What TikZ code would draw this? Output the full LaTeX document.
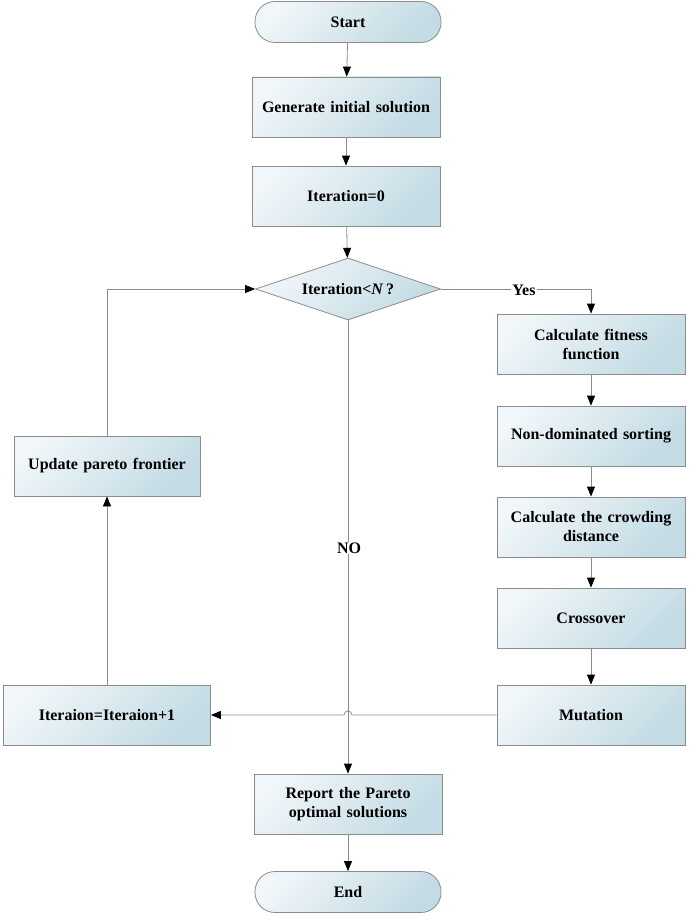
\documentclass[tikz,border=0pt]{standalone}
\usepackage{fontspec}
\setmainfont{Liberation Serif}
\usepackage{xcolor}
\usetikzlibrary{shapes.geometric,arrows.meta}

\definecolor{boxlight}{HTML}{F0F6F9}
\definecolor{boxdark}{HTML}{C3DBE4}
\definecolor{edgegray}{HTML}{8C8C8C}

\tikzset{
  base/.style={draw=edgegray, line width=0.8pt, top color=boxlight, bottom color=boxdark,
    shading angle=45, font=\fontsize{16}{19}\selectfont\bfseries, align=center},
  procbox/.style={base, rectangle, minimum width=188pt, minimum height=60pt, text width=176pt},
  termbox/.style={base, rectangle, rounded corners=20pt, minimum width=186pt, minimum height=41pt},
  decbox/.style={base, diamond, minimum width=185pt, minimum height=62pt, inner sep=0pt, aspect=3},
  flow/.style={draw=edgegray, line width=0.8pt, ->, >={Triangle[length=10pt,width=8pt,black]}},
  lbl/.style={fill=white, inner sep=1pt, font=\fontsize{16}{19}\selectfont\bfseries}
}

\begin{document}
\begin{tikzpicture}[x=1pt, y=-1pt]
  \useasboundingbox (0,0) rectangle (688,915);
  % main column
  \node[termbox] (start) at (348,22) {Start};
  \node[procbox] (gen) at (346,107) {Generate initial solution};
  \node[procbox] (init) at (346,196) {Iteration=0};
  \node[decbox] (cond) at (348,289) {Iteration<\textit{N}\,?};
  \node[procbox] (report) at (348,804) {Report the Pareto\\optimal solutions};
  \node[termbox] (stop) at (348,892) {End};
  % right column
  \node[procbox] (fit) at (591,344) {Calculate fitness\\function};
  \node[procbox] (sort) at (591,436) {Non-dominated sorting};
  \node[procbox] (crowd) at (591,527) {Calculate the crowding\\distance};
  \node[procbox] (cross) at (591,618) {Crossover};
  \node[procbox] (mut) at (591,715) {Mutation};
  % left column
  \node[procbox, minimum width=186pt] (upd) at (107,466) {Update pareto frontier};
  \node[procbox, minimum width=207pt, text width=195pt] (iter) at (107,715) {Iteraion=Iteraion+1};

  \draw[flow] (start) -- (gen);
  \draw[flow] (gen) -- (init);
  \draw[flow] (init) -- (cond);
  \draw[flow] (cond.east) -| (fit.north);
  \node[lbl] (yes) at (524,290) {Yes};
  \draw[flow] (fit) -- (sort);
  \draw[flow] (sort) -- (crowd);
  \draw[flow] (crowd) -- (cross);
  \draw[flow] (cross) -- (mut);
  \draw[flow] (cond.south) -- (report.north);
  \node[lbl] (no) at (349,548) {NO};
  \draw[flow] (mut.west) -- (352,715) arc[start angle=0, end angle=180, radius=4pt] -- (iter.east);
  \draw[flow] (iter.north) -- (upd.south);
  \draw[flow] (upd.north) |- (cond.west);
  \draw[flow] (report) -- (stop);
\end{tikzpicture}
\end{document}
